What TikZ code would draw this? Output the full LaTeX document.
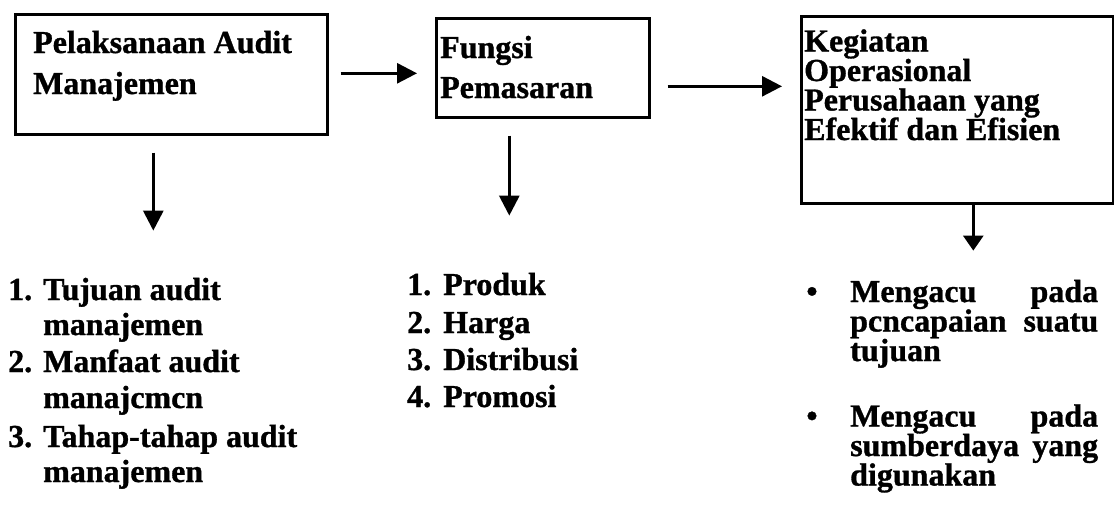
\documentclass[tikz,border=0pt]{standalone}
\usepackage{fontspec}
\setmainfont{Liberation Serif}[BoldFeatures={FakeBold=1}]
\usetikzlibrary{arrows.meta,calc}
\begin{document}
\begin{tikzpicture}[x=1pt,y=-1pt,
  boxst/.style={draw, line width=2.6pt, rectangle, inner sep=0pt, anchor=north west},
  txt/.style={anchor=base west, inner sep=0pt, font=\fontsize{32}{38}\selectfont\bfseries},
  bul/.style={anchor=base, inner sep=0pt, font=\fontsize{32}{38}\selectfont\bfseries},
  arr/.style={line width=2.8pt, -{Triangle[length=20pt,width=20pt]}},
  arrs/.style={line width=2.8pt, -{Triangle[length=15pt,width=20pt]}}]
\useasboundingbox (0,0) rectangle (1114,523);
% boxes
\node[boxst, minimum width=312pt, minimum height=120pt] (b1) at (14,13) {};
\node[boxst, minimum width=213pt, minimum height=99pt] (b2) at (435,17) {};
\node[boxst, minimum width=312pt, minimum height=187pt] (b3) at (800,15) {};
% box texts
\node[txt] (t11) at (33,53) {Pelaksanaan Audit};
\node[txt] (t12) at (33,94) {Manajemen};
\node[txt] (t21) at (440,58) {Fungsi};
\node[txt] (t22) at (440,98) {Pemasaran};
\node[txt] (t31) at (804,51.5) {Kegiatan};
\node[txt] (t32) at (804,81) {Operasional};
\node[txt] (t33) at (804,110.5) {Perusahaan yang};
\node[txt] (t34) at (804,140) {Efektif dan Efisien};
% connectors
\draw[arr] ($(b1.east)+(12,-1)$) -- ($(b1.east -| b2.west)+(-18,-1)$);
\draw[arr] ($(b2.east)+(17,18.5)$) -- ($(b2.east -| b3.west)+(-18,18.5)$);
\draw[arr] ($(b1.south)+(-18,17)$) -- ++(0,78);
\draw[arr] ($(b2.south)+(-33.5,17)$) -- ++(0,80);
\draw[arrs] ($(b3.south)+(16,0)$) -- ++(0,46);
% list 1
\node[txt] (n11) at (8,300) {1.};
\node[txt] (l11) at (43,300) {Tujuan audit};
\node[txt] (l12) at (43,335) {manajemen};
\node[txt] (n12) at (8,372) {2.};
\node[txt] (l13) at (43,372) {Manfaat audit};
\node[txt] (l14) at (43,408) {manajcmcn};
\node[txt] (n13) at (8,447) {3.};
\node[txt] (l15) at (43,447) {Tahap-tahap audit};
\node[txt] (l16) at (43,482) {manajemen};
% list 2
\node[txt] (n21) at (407,295) {1.};
\node[txt] (l21) at (443,295) {Produk};
\node[txt] (n22) at (407,333) {2.};
\node[txt] (l22) at (443,333) {Harga};
\node[txt] (n23) at (407,370) {3.};
\node[txt] (l23) at (443,370) {Distribusi};
\node[txt] (n24) at (407,407) {4.};
\node[txt] (l24) at (443,407) {Promosi};
% list 3
\node[bul] (p1) at (812,302) {\textbullet};
\node[txt] (l31) at (850,302) {\makebox[248pt][s]{Mengacu pada}};
\node[txt] (l32) at (850,331.5) {\makebox[248pt][s]{pcncapaian suatu}};
\node[txt] (l33) at (850,361) {tujuan};
\node[bul] (p2) at (812,426.5) {\textbullet};
\node[txt] (l34) at (850,426.5) {\makebox[248pt][s]{Mengacu pada}};
\node[txt] (l35) at (850,456) {\makebox[248pt][s]{sumberdaya yang}};
\node[txt] (l36) at (850,485.5) {digunakan};
\end{tikzpicture}
\end{document}
